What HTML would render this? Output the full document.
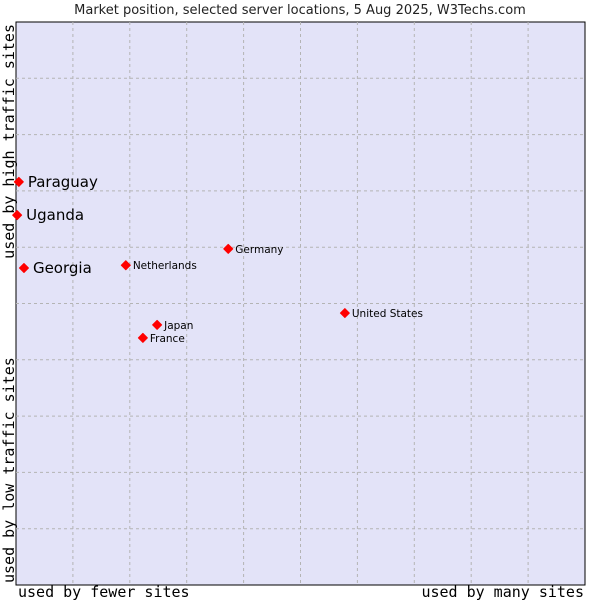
<!DOCTYPE html>
<html><head><meta charset="utf-8"><style>
body{margin:0;background:#fff;width:600px;height:600px;overflow:hidden}
svg{display:block;font-family:"DejaVu Sans","Liberation Sans",sans-serif}
</style></head><body>
<svg id="chart" width="600" height="600">
<text x="300" y="14" text-anchor="middle" font-size="13" fill="#222">Market position, selected server locations, 5 Aug 2025, W3Techs.com</text>
<rect x="16" y="22" width="569" height="563" fill="#e3e3f8" stroke="#000" stroke-width="1"/>
<g id="grid"></g>
<g id="points"></g>
<text x="18" y="597" font-family="DejaVu Sans Mono,Liberation Mono,monospace" font-size="15" fill="#000">used by fewer sites</text>
<text x="584" y="597" text-anchor="end" font-family="DejaVu Sans Mono,Liberation Mono,monospace" font-size="15" fill="#000">used by many sites</text>
<text transform="translate(14,583) rotate(-90)" font-family="DejaVu Sans Mono,Liberation Mono,monospace" font-size="15" fill="#000">used by low traffic sites</text>
<text transform="translate(14,24) rotate(-90)" text-anchor="end" font-family="DejaVu Sans Mono,Liberation Mono,monospace" font-size="15" fill="#000">used by high traffic sites</text>
</svg>
<script>
const countries=["Paraguay","Uganda","Georgia","Netherlands","Germany","United States","Japan","France"];
const xValues=[0.5,0.2,1.4,19.3,37.3,57.8,24.8,22.3];
const yValues=[71.6,65.7,56.3,56.8,59.7,48.3,46.2,43.9];
const highlighted=[true,true,true,false,false,false,false,false];
const L=16,R=585,T=22,B=585;
function sx(v){return L+v/100*(R-L);}
function sy(v){return B-v/100*(B-T);}
const ns="http://www.w3.org/2000/svg";
const grid=document.getElementById('grid');
for(let i=1;i<10;i++){
  const v=document.createElementNS(ns,'line');
  
  
  v.setAttribute('x1',sx(i*10));v.setAttribute('x2',sx(i*10));v.setAttribute('y1',T);v.setAttribute('y2',B);
  v.setAttribute('stroke','#b4b4b4');v.setAttribute('stroke-dasharray','3,3');
  grid.appendChild(v);
  const h=document.createElementNS(ns,'line');
  
  
  h.setAttribute('y1',sy(i*10));h.setAttribute('y2',sy(i*10));h.setAttribute('x1',L);h.setAttribute('x2',R);
  h.setAttribute('stroke','#b4b4b4');h.setAttribute('stroke-dasharray','3,3');
  grid.appendChild(h);
}
const pts=document.getElementById('points');
countries.forEach((c,i)=>{
  const x=sx(xValues[i]),y=sy(yValues[i]);
  const p=document.createElementNS(ns,'polygon');
  
  
  p.setAttribute('points',`${x},${y-4.5} ${x+4.5},${y} ${x},${y+4.5} ${x-4.5},${y}`);
  p.setAttribute('fill','#f00');
  p.setAttribute('stroke','#f00');
  p.setAttribute('stroke-width','1');
  p.setAttribute('stroke-linejoin','round');
  pts.appendChild(p);
  const t=document.createElementNS(ns,'text');
  
  
  const big=highlighted[i];
  t.setAttribute('x',x+(big?9:7));
  t.setAttribute('y',y+(big?5:4));
  t.setAttribute('font-size',big?15:10.5);
  t.setAttribute('fill','#000');
  t.textContent=c;
  pts.appendChild(t);
});
</script>
</body></html>
